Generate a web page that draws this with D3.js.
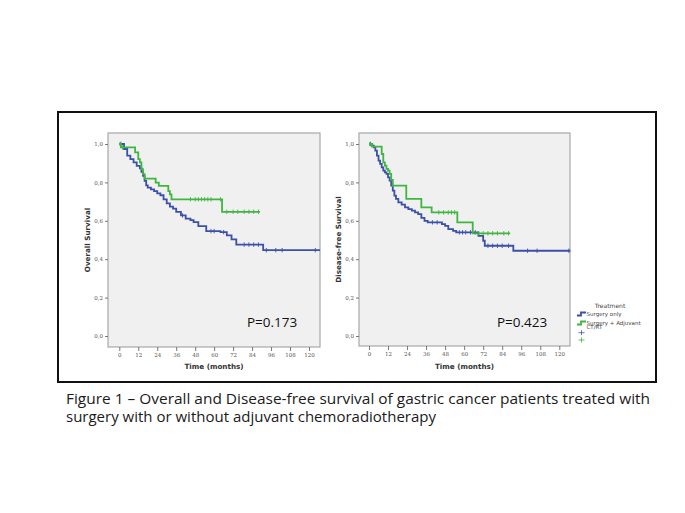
<!DOCTYPE html>
<html><head><meta charset="utf-8">
<script src="https://cdn.jsdelivr.net/npm/d3@7"></script>
<style>body{margin:0;background:#fff}svg{display:block}</style>
</head><body>
<svg id="c" width="685" height="513"></svg>
<script>
// ---- data ----
const xTicks = [0,12,24,36,48,60,72,84,96,108,120];
const yTicks = [0,0.2,0.4,0.6,0.8,1.0];
// Overall survival: [time (months), survival after step]
const osSurgeryOnly = [[0,1],[3,0.974],[5,0.939],[7,0.921],[9,0.904],[11,0.886],[13,0.873],[14,0.855],[15,0.834],[16,0.808],[17,0.785],[18,0.773],[20,0.764],[22,0.755],[24,0.743],[26,0.733],[28,0.712],[30,0.691],[32,0.674],[34,0.663],[36,0.646],[39,0.628],[42,0.611],[45,0.604],[47,0.593],[50,0.572],[55,0.546],[64,0.541],[68,0.524],[71,0.503],[74,0.476],[91,0.447]];
const osSurgeryOnlyEnd = 127;
const osSurgeryOnlyCensor = [1,40,58,60,66,79,82,85,88,93,99,103,124];
const osAdjuvant = [[0,1],[1,0.982],[10,0.956],[12,0.921],[13,0.904],[14,0.869],[15,0.843],[16,0.82],[23,0.799],[25,0.782],[31,0.755],[32,0.738],[33,0.712],[65,0.647]];
const osAdjuvantEnd = 89;
const osAdjuvantCensor = [0.5,2,45,48,50,52,54,56,58,64,68,72,75,79,82,85,88];
// Disease-free survival
const dfsSurgeryOnly = [[0,1],[2,0.991],[3,0.982],[4,0.965],[5,0.939],[6,0.913],[7,0.896],[8,0.878],[9,0.861],[10,0.852],[11,0.844],[12,0.826],[13,0.809],[14,0.783],[15,0.757],[16,0.731],[17,0.714],[18.5,0.696],[20.6,0.684],[22.7,0.67],[24.8,0.661],[27,0.653],[29,0.644],[31,0.635],[33,0.615],[35,0.6],[37,0.592],[46,0.583],[48,0.574],[50,0.557],[53,0.548],[55,0.54],[69,0.522],[72,0.496],[73,0.47],[91,0.444]];
const dfsSurgeryOnlyEnd = 127;
const dfsSurgeryOnlyCensor = [1,40,43,57,59,61,64,67,75,78,81,84,88,100,106,126];
const dfsAdjuvant = [[0,1],[2,0.986],[8,0.948],[9,0.904],[10,0.887],[11,0.87],[12,0.861],[13,0.844],[14,0.813],[15,0.783],[23.5,0.714],[33,0.67],[39.5,0.644],[55.7,0.592],[65.4,0.535]];
const dfsAdjuvantEnd = 89;
const dfsAdjuvantCensor = [0.5,44,47,50,52,54,69,72,75,78,81,85,88];
const pValues = ["P=0.173","P=0.423"];
const yTitles = ["Overall Survival","Disease-free Survival"];
const xTitle = "Time (months)";
const legendTitle = "Treatment";
const legendLabels = [["Surgery only"],["Surgery + Adjuvant","CT/RT"]];
const caption = ["Figure 1 \u2013 Overall and Disease-free survival of gastric cancer patients treated with","surgery with or without adjuvant chemoradiotherapy"];

// ---- drawing ----
const BLUE = "#3d50a8", GREEN = "#3fb640";
const svg = d3.select("#c");

svg.append("rect").attr("x",58).attr("y",112).attr("width",598).attr("height",270)
  .attr("fill","#fff").attr("stroke","#111").attr("stroke-width",2);

const panels = [
  {x0:108,x1:320,y0:133,y1:347, xa:119.3, xb:309, series:[[osSurgeryOnly,osSurgeryOnlyEnd,osSurgeryOnlyCensor,BLUE],[osAdjuvant,osAdjuvantEnd,osAdjuvantCensor,GREEN]], p:pValues[0], px:247, yt:yTitles[0], ytx:87},
  {x0:359,x1:570,y0:133,y1:346, xa:369, xb:559.3, series:[[dfsSurgeryOnly,dfsSurgeryOnlyEnd,dfsSurgeryOnlyCensor,BLUE],[dfsAdjuvant,dfsAdjuvantEnd,dfsAdjuvantCensor,GREEN]], p:pValues[1], px:497, yt:yTitles[1], ytx:338}
];

function stepAt(steps,t){let s=steps[0][1];for(const d of steps){if(d[0]<=t)s=d[1];}return s;}

panels.forEach(P=>{
  const x = d3.scaleLinear().domain([0,120]).range([P.xa,P.xb]);
  const y = d3.scaleLinear().domain([0,1]).range([336,144]);
  const g = svg.append("g");
  g.append("rect").attr("x",P.x0).attr("y",P.y0).attr("width",P.x1-P.x0).attr("height",P.y1-P.y0)
    .attr("fill","#f0f0f0").attr("stroke","#a8a8a8").attr("stroke-width",1.2);
  // y axis
  const ya = g.append("g").attr("transform",`translate(${P.x0},0)`)
    .call(d3.axisLeft(y).tickValues(yTicks).tickSize(3).tickFormat(d=>d3.format(".1f")(d).replace(".",",")));
  ya.select(".domain").remove();
  ya.selectAll("line").attr("stroke","#777");
  ya.selectAll("text").attr("font-family","DejaVu Serif").attr("font-size",5.5).attr("fill","#555").attr("dx",1);
  // x axis
  const xa = g.append("g").attr("transform",`translate(0,${P.y1})`)
    .call(d3.axisBottom(x).tickValues(xTicks).tickSize(4).tickPadding(2));
  xa.select(".domain").remove();
  xa.selectAll("line").attr("stroke","#777");
  xa.selectAll("text").attr("font-family","DejaVu Serif").attr("font-size",5.5).attr("fill","#555");
  // titles
  g.append("text").attr("x",(P.x0+P.x1)/2).attr("y",369).attr("text-anchor","middle")
    .attr("font-family","DejaVu Sans").attr("font-weight","bold").attr("font-size",7.2).attr("fill","#333").text(xTitle);
  g.append("text").attr("transform",`translate(${P.ytx+2.5},${(P.y0+P.y1)/2}) rotate(-90)`).attr("text-anchor","middle")
    .attr("font-family","DejaVu Sans").attr("font-weight","bold").attr("font-size",7.2).attr("fill","#333").text(P.yt);
  // curves
  const line = d3.line().x(d=>x(d[0])).y(d=>y(d[1])).curve(d3.curveStepAfter);
  P.series.forEach(([steps,end,cens,col])=>{
    const pts = steps.concat([[end,steps[steps.length-1][1]]]);
    g.append("path").attr("d",line(pts)).attr("fill","none").attr("stroke",col).attr("stroke-width",1.8);
    g.selectAll(null).data(cens).enter().append("line")
      .attr("x1",d=>x(d)).attr("x2",d=>x(d))
      .attr("y1",d=>y(stepAt(steps,d))-2.2).attr("y2",d=>y(stepAt(steps,d))+2.2)
      .attr("stroke",col).attr("stroke-width",0.9);
  });
  g.append("text").attr("x",P.px).attr("y",327).attr("font-family","Open Sans").attr("font-size",13.5)
    .attr("fill","#111").text(P.p);
});

// legend
const lg = svg.append("g");
lg.append("text").attr("x",610).attr("y",308).attr("text-anchor","middle").attr("font-family","DejaVu Sans")
  .attr("font-size",6).attr("fill","#444").text(legendTitle);
[[BLUE,314],[GREEN,323]].forEach(([col,yy],i)=>{
  lg.append("path").attr("d",`M577,${yy+1.5}h4v-3h5`).attr("fill","none").attr("stroke",col).attr("stroke-width",1.8);
  legendLabels[i].forEach((t,j)=>{
    lg.append("text").attr("x",586.5).attr("y",yy+1.5+j*4.8).attr("font-family","DejaVu Sans").attr("font-size",5.5)
      .attr("fill","#444").text(t);
  });
});
[[BLUE,332.7],[GREEN,340]].forEach(([col,yy])=>{
  lg.append("path").attr("d",`M578.5,${yy}h6M581.5,${yy-2.5}v5`).attr("stroke",col).attr("stroke-width",0.8);
});

// caption
caption.forEach((t,i)=>{
  svg.append("text").attr("x",66).attr("y",404+i*17.5).attr("font-family","Open Sans").attr("font-size",14)
    .attr("fill","#1a1a1a").attr("textLength",i===0?584:370).attr("lengthAdjust","spacingAndGlyphs").text(t);
});
</script>
</body></html>
